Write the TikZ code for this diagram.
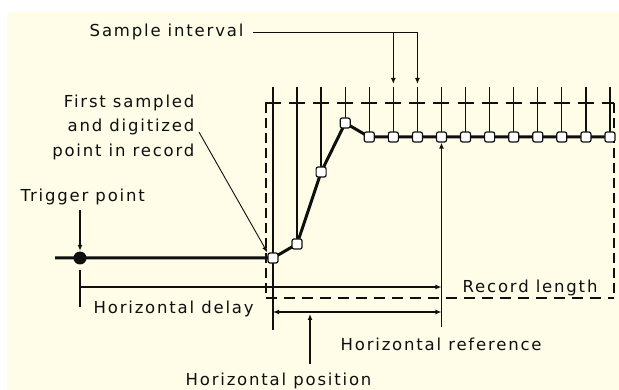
\documentclass[tikz,border=0pt]{standalone}
\usepackage{fontspec}
\newfontfamily\labelfont{DejaVu Sans}[LetterSpace=11]
\usetikzlibrary{arrows.meta}

\definecolor{paper}{RGB}{255,253,232}
\definecolor{ink}{RGB}{15,15,15}

\begin{document}
\begin{tikzpicture}[x=1pt, y=-1pt, line width=1.3pt, draw=ink,
		>={Latex[length=6pt,width=5pt]},
		lbl/.style={font=\labelfont\fontsize{16.5}{24.5}\selectfont, inner sep=0pt, text=ink},
		smp/.style={draw=ink, fill=white, line width=1.2pt, rounded corners=2pt,
			minimum size=10pt, inner sep=0pt},
		wave/.style={line width=3pt, ink, line join=round},
		frame/.style={ink, line width=1.4pt}]
	% Tlo
	\useasboundingbox (0,0) rectangle (619,390);
	\fill[paper] (7,12) rectangle (619,390);
	
	% Punkty probkowania
	\foreach \y [count=\k from 0] in {258,244,172,123,137,137,137,137,137,137,137,137,137,137,137}
		\coordinate (p\k) at ({273+24.07*\k},\y);
	\foreach \k in {0,...,14}
		\coordinate (tk\k) at ({273+24.07*\k},87);
	
	% Ramka rekordu
	\draw[frame, dash pattern=on 16pt off 8.07pt] (265,103) -- (614,103);
	\draw[frame, dash pattern=on 10pt off 5pt] (266,103) -- (266,298);
	\draw[frame, dash pattern=on 10pt off 5pt] (614,103) -- (614,298);
	\draw[frame, dash pattern=on 11pt off 7pt] (266,298) -- (614,298);
	
	% Znaczniki probek
	\draw (tk0) -- (tk0 |- 0,330);
	\foreach \k in {1,...,14}
		\draw (tk\k) -- (p\k);
	
	% Przebieg
	\draw[wave] (55,258) \foreach \k in {0,...,14} { -- (p\k) };
	\node[circle, fill=ink, minimum size=13pt, inner sep=0pt] (trig) at (80,258) {};
	\foreach \k in {0,...,14}
		\node[smp] (s\k) at (p\k) {};
	
	% Opisy
	\node[lbl, anchor=base east] (sampleint) at (244,37) {Sample interval};
	\node[lbl, anchor=north east, align=right] (firstpt) at (195,94) {First sampled\\and digitized\\point in record};
	\node[lbl, anchor=base west] (trigger) at (20,202) {Trigger point};
	\node[lbl, anchor=base west] (hdelay) at (93,314) {Horizontal delay};
	\node[lbl, anchor=base west] (reclen) at (462,293) {Record length};
	\node[lbl, anchor=base west] (href) at (340,350) {Horizontal reference};
	\node[lbl, anchor=base west] (hpos) at (185,385) {Horizontal position};
	
	% Strzalki
	\draw[->] ([xshift=9pt]sampleint.east) -- (sampleint.east -| tk6) -- ([yshift=3pt]tk6);
	\draw[->] (sampleint.east -| tk5) -- ([yshift=3pt]tk5);
	\draw[->, line width=0.9pt] ([shift={(4pt,-5pt)}]firstpt.east) -- (s0.north west);
	\draw[->] ([yshift=-4pt]trigger.south -| trig) -- (trig.north);
	\draw (trig |- 0,270) -- (trig |- 0,307);
	\draw[->] (trig |- 0,287) -- (s7 |- 0,287);
	\draw[<->] (s0 |- 0,312) -- (s7 |- 0,312);
	\draw[->] (s7 |- 0,327) -- (s7.south);
	\draw[->] ([yshift=8pt]hpos.north -| 310,0) -- (310,314);
\end{tikzpicture}
\end{document}
